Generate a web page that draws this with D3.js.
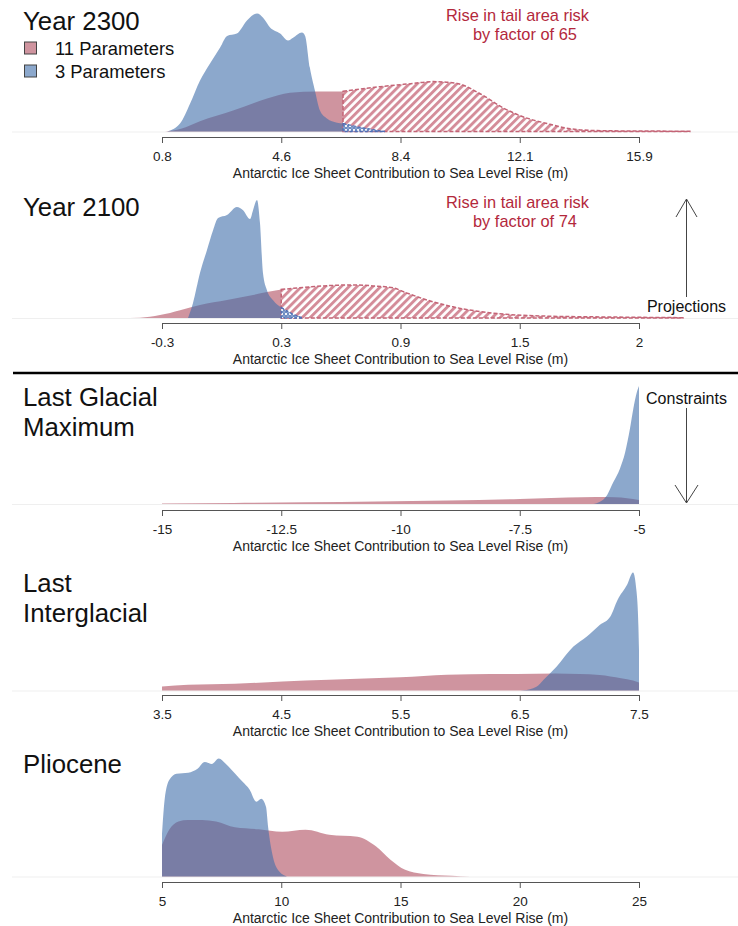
<!DOCTYPE html>
<html><head><meta charset="utf-8">
<script src="https://cdn.jsdelivr.net/npm/d3@7"></script>
<style>body{margin:0;background:#fff}svg{display:block}text{font-family:"Liberation Sans",Arial,Helvetica,sans-serif}</style>
</head><body><svg id="c" width="738" height="926"></svg>
<script>
// ---------------- DATA ----------------
const seriesNames = ["11 Parameters", "3 Parameters"];
const axisTitle = "Antarctic Ice Sheet Contribution to Sea Level Rise (m)";
const panelNames = [["Year 2300"], ["Year 2100"], ["Last Glacial", "Maximum"], ["Last", "Interglacial"], ["Pliocene"]];
const arrowLabels = ["Projections", "Constraints"];
const riskText = "Rise in tail area risk";

// Year 2300
const ticks2300 = [0.8, 4.575, 8.35, 12.125, 15.9];
const tickLabels2300 = ["0.8", "4.6", "8.4", "12.1", "15.9"];
const pink2300 = [[0.9,0],[1.4,0.006],[2.0,0.022],[3.05,0.045],[4.1,0.070],[4.85,0.083],[5.7,0.086],[6.53,0.086],[7.7,0.096],[8.75,0.103],[9.38,0.107],[10.14,0.103],[10.87,0.081],[11.59,0.051],[12.13,0.034],[12.99,0.017],[13.72,0.006],[14.57,0.002],[15.93,0.001],[17.51,0.0007]];
const blue2300 = [[0.96,0],[1.37,0.017],[1.69,0.060],[2.0,0.109],[2.32,0.146],[2.64,0.180],[2.86,0.205],[3.17,0.210],[3.49,0.238],[3.81,0.253],[4.0,0.244],[4.22,0.223],[4.54,0.210],[4.79,0.195],[4.95,0.201],[5.23,0.212],[5.33,0.205],[5.48,0.137],[5.64,0.088],[5.8,0.045],[6.02,0.028],[6.34,0.019],[6.53,0.017],[7.07,0.009],[7.86,0]];
const threshold2300 = 6.53;
const factor2300 = 65;

// Year 2100
const ticks2100 = [-0.3, 0.3, 0.9, 1.5, 2.1];
const tickLabels2100 = ["-0.3", "0.3", "0.9", "1.5", "2"];
const pink2100 = [[-0.511,0],[-0.411,0.01],[-0.31,0.09],[-0.209,0.24],[-0.109,0.40],[0.027,0.55],[0.158,0.70],[0.228,0.79],[0.3,0.87],[0.445,0.95],[0.661,1.01],[0.762,0.98],[0.862,0.92],[0.933,0.76],[1.033,0.55],[1.164,0.34],[1.365,0.15],[1.617,0.06],[1.954,0.03],[2.321,0.01]];
const blue2100 = [[-0.169,0],[-0.144,0.46],[-0.109,1.37],[-0.074,2.07],[-0.043,2.68],[-0.018,3.05],[0.027,3.14],[0.077,3.39],[0.108,3.29],[0.143,3.02],[0.158,3.29],[0.178,3.60],[0.193,2.90],[0.208,1.37],[0.228,0.85],[0.258,0.55],[0.3,0.32],[0.359,0.12],[0.409,0]];
const threshold2100 = 0.3;
const factor2100 = 74;

// Last Glacial Maximum
const ticksLGM = [-15, -12.5, -10, -7.5, -5];
const tickLabelsLGM = ["-15", "-12.5", "-10", "-7.5", "-5"];
const pinkLGM = [[-15,0.012],[-13.5,0.025],[-12,0.04],[-10.5,0.058],[-9,0.08],[-7.5,0.115],[-6.5,0.145],[-5.9,0.158],[-5.5,0.15],[-5.0,0.09]];
const blueLGM = [[-5.96,0],[-5.82,0.05],[-5.67,0.2],[-5.54,0.49],[-5.4,0.8],[-5.29,1.17],[-5.19,1.7],[-5.12,2.15],[-5.04,2.55],[-5.0,2.67]];

// Last Interglacial
const ticksLIG = [3.5, 4.5, 5.5, 6.5, 7.5];
const tickLabelsLIG = ["3.5", "4.5", "5.5", "6.5", "7.5"];
const pinkLIG = [[3.5,0.085],[3.72,0.12],[4.11,0.142],[4.51,0.19],[4.9,0.227],[5.5,0.28],[5.89,0.333],[6.09,0.345],[6.48,0.35],[6.8,0.36],[7.0,0.35],[7.17,0.33],[7.35,0.26],[7.45,0.21],[7.5,0.17]];
const blueLIG = [[6.48,0],[6.53,0.005],[6.64,0.08],[6.7,0.23],[6.81,0.51],[6.95,0.93],[7.06,1.14],[7.17,1.39],[7.26,1.57],[7.32,1.92],[7.4,2.24],[7.45,2.5],[7.48,2.08],[7.495,1.36],[7.5,0.85]];

// Pliocene
const ticksPlio = [5, 10, 15, 20, 25];
const tickLabelsPlio = ["5", "10", "15", "20", "25"];
const pinkPlio = [[5.0,0.064],[5.3,0.095],[5.69,0.112],[6.08,0.115],[6.68,0.115],[7.27,0.112],[8.06,0.1],[9.05,0.096],[10.04,0.091],[11.02,0.095],[12.01,0.085],[13.2,0.081],[13.98,0.061],[14.58,0.034],[15.17,0.014],[15.96,0.005],[17.14,0.0014],[17.93,0]];
const bluePlio = [[5.0,0.087],[5.11,0.156],[5.31,0.197],[5.61,0.209],[6.1,0.211],[6.49,0.219],[6.79,0.233],[7.09,0.229],[7.38,0.24],[7.68,0.229],[8.07,0.209],[8.37,0.193],[8.67,0.177],[8.96,0.152],[9.16,0.158],[9.36,0.142],[9.45,0.10],[9.65,0.04],[9.85,0.014],[10.24,0]];

// ---------------- LAYOUT / STYLE ----------------
const FONT = '"Liberation Sans",Arial,Helvetica,sans-serif';
const PINK = "rgba(175,77,95,0.6)";
const BLUE = "rgba(63,110,170,0.6)";
const RED = "#b3283c";
const X0 = 162, X1 = 639, H = 118;

const svg = d3.select("#c");
const defs = svg.append("defs");
const pp = defs.append("pattern").attr("id","hatchPink").attr("patternUnits","userSpaceOnUse")
  .attr("width",5.6).attr("height",5.6).attr("patternTransform","rotate(45)");
pp.append("rect").attr("width",5.6).attr("height",5.6).attr("fill","#fff");
pp.append("rect").attr("width",2.9).attr("height",5.6).attr("fill","rgb(212,140,153)");
const bp = defs.append("pattern").attr("id","hatchBlue").attr("patternUnits","userSpaceOnUse")
  .attr("width",4).attr("height",4);
bp.append("rect").attr("width",4).attr("height",4).attr("fill","rgb(110,140,195)");
bp.append("path").attr("d","M0.8,0.8L3.2,3.2M3.2,0.8L0.8,3.2").attr("stroke","#fff").attr("stroke-width",0.9);

const panels = [
  {names: panelNames[0], pink: pink2300, blue: blue2300, ticks: ticks2300, labels: tickLabels2300, thr: threshold2300, factor: factor2300, base: 131.5, axisY: 137, titleY: [29.5], annY: 21},
  {names: panelNames[1], pink: pink2100, blue: blue2100, ticks: ticks2100, labels: tickLabels2100, thr: threshold2100, factor: factor2100, base: 318, axisY: 323, titleY: [216], annY: 208},
  {names: panelNames[2], pink: pinkLGM, blue: blueLGM, ticks: ticksLGM, labels: tickLabelsLGM, base: 504, axisY: 510, titleY: [406, 436]},
  {names: panelNames[3], pink: pinkLIG, blue: blueLIG, ticks: ticksLIG, labels: tickLabelsLIG, base: 690.5, axisY: 695, titleY: [592, 622]},
  {names: panelNames[4], pink: pinkPlio, blue: bluePlio, ticks: ticksPlio, labels: tickLabelsPlio, base: 876.5, axisY: 882, titleY: [773]}
];

panels.forEach(p => {
  const g = svg.append("g");
  const x = d3.scaleLinear().domain([p.ticks[0], p.ticks[p.ticks.length-1]]).range([X0, X1]);
  const ymax = d3.max(p.blue, d => d[1]);
  const y = d3.scaleLinear().domain([0, ymax]).range([p.base, p.base - H]);
  const area = d3.area().x(d => x(d[0])).y0(p.base).y1(d => y(d[1])).curve(d3.curveMonotoneX);

  // faint baseline
  g.append("line").attr("x1",12).attr("x2",738).attr("y1",p.base+0.5).attr("y2",p.base+0.5)
    .attr("stroke","#efefef").attr("stroke-width",1);

  if (p.thr !== undefined) {
    const pb = p.pink.filter(d => d[0] <= p.thr), pt = p.pink.filter(d => d[0] >= p.thr);
    const bb = p.blue.filter(d => d[0] <= p.thr), bt = p.blue.filter(d => d[0] >= p.thr);
    g.append("path").attr("d", area(pb)).attr("fill", PINK);
    g.append("path").attr("d", area(bb)).attr("fill", BLUE);
    g.append("path").attr("d", area(pt)).attr("fill", "url(#hatchPink)")
      .attr("stroke", "rgb(196,100,118)").attr("stroke-width", 1.5).attr("stroke-dasharray","4,2");
    g.append("path").attr("d", area(bt)).attr("fill", "url(#hatchBlue)")
      .attr("stroke", "rgb(80,110,180)").attr("stroke-width", 1.3).attr("stroke-dasharray","3,2");
    // annotation
    g.append("text").attr("x",446).attr("y",p.annY).attr("fill",RED).attr("font-size",16.4).text(riskText);
    g.append("text").attr("x",473).attr("y",p.annY+19).attr("fill",RED).attr("font-size",16.4).text("by factor of " + p.factor);
  } else {
    g.append("path").attr("d", area(p.pink)).attr("fill", PINK);
    g.append("path").attr("d", area(p.blue)).attr("fill", BLUE);
  }

  // axis
  const ax = g.append("g").attr("transform", `translate(0,${p.axisY})`)
    .call(d3.axisBottom(x).tickValues(p.ticks).tickFormat((d,i) => p.labels[i]).tickSize(6).tickSizeOuter(0).tickPadding(8));
  ax.select(".domain").attr("stroke","#555");
  ax.selectAll(".tick line").attr("stroke","#555");
  ax.selectAll("text").attr("font-size",13.5).attr("font-family",FONT).attr("fill","#222");
  g.append("text").attr("x",(X0+X1)/2).attr("y",p.axisY+41).attr("text-anchor","middle")
    .attr("font-size",14).attr("fill","#222").text(axisTitle);

  // panel title
  p.names.forEach((n,i) => {
    g.append("text").attr("x",23).attr("y",p.titleY[i]).attr("font-size",25.8).attr("fill","#111").text(n);
  });
});

// legend
const leg = svg.append("g");
[PINK, BLUE].forEach((c,i) => {
  leg.append("rect").attr("x",24.5).attr("y",42+i*23).attr("width",12).attr("height",12)
    .attr("fill","#fff").attr("stroke","none");
  leg.append("rect").attr("x",24.5).attr("y",42+i*23).attr("width",12).attr("height",12)
    .attr("fill",c).attr("stroke","#444").attr("stroke-width",1);
  leg.append("text").attr("x",55).attr("y",55+i*23).attr("font-size",18.4).attr("fill","#111").text(seriesNames[i]);
});

// divider
svg.append("line").attr("x1",13).attr("x2",738).attr("y1",373).attr("y2",373).attr("stroke","#000").attr("stroke-width",2.5);

// arrows
const ar = svg.append("g").attr("stroke","#444").attr("stroke-width",1).attr("fill","none");
ar.append("line").attr("x1",686.5).attr("x2",686.5).attr("y1",297).attr("y2",199);
ar.append("path").attr("d","M676,217L686.5,199L697,217");
ar.append("line").attr("x1",686.5).attr("x2",686.5).attr("y1",408).attr("y2",503);
ar.append("path").attr("d","M675,485L686.5,503L698,485");
svg.append("text").attr("x",686.5).attr("y",311.5).attr("text-anchor","middle").attr("font-size",16).attr("fill","#111").text(arrowLabels[0]);
svg.append("text").attr("x",686.5).attr("y",403.5).attr("text-anchor","middle").attr("font-size",16).attr("fill","#111").text(arrowLabels[1]);
</script></body></html>
